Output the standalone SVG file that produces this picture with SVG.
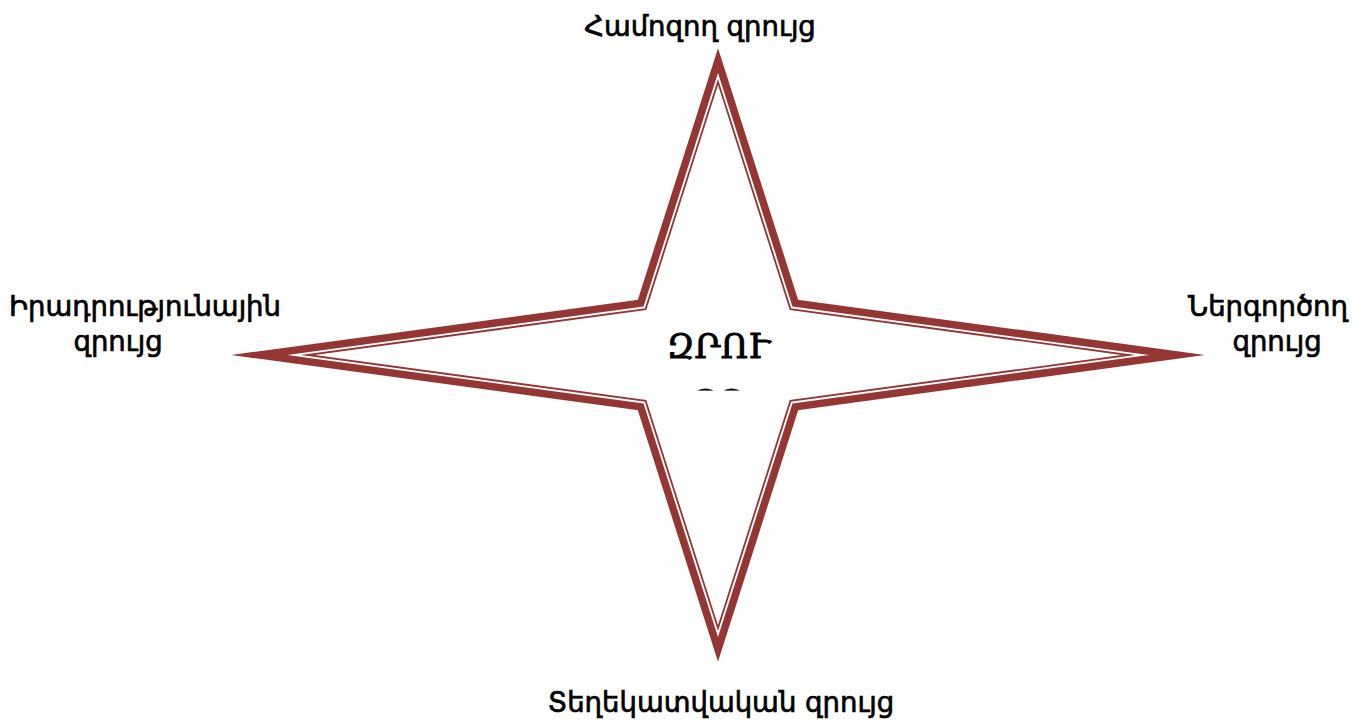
<svg xmlns="http://www.w3.org/2000/svg" width="1371" height="724" viewBox="0 0 1371 724">
  <style>
    .lbl { font-family: "DejaVu Sans", "Noto Sans", sans-serif; font-size: 27.5px; fill: #000; stroke: #000; stroke-width: 0.7; text-anchor: middle; }
    .ctr { font-family: "DejaVu Serif", "Liberation Serif", serif; font-size: 34px; fill: #000; text-anchor: middle; stroke: #000; stroke-width: 0.9; }
    .band { fill: #ffffff; stroke: #943634; stroke-width: 7.5; stroke-linejoin: miter; stroke-miterlimit: 12; }
    .thin { fill: none; stroke: #943634; stroke-width: 1.8; stroke-linejoin: miter; stroke-miterlimit: 12; }
  </style>
  <defs>
    <clipPath id="clip2">
      <rect x="640" y="388" width="160" height="2.6"/>
    </clipPath>
  </defs>
  <rect width="1371" height="724" fill="#ffffff"/>
  <g id="star">
    <polygon class="band" points="718,60.5 795.3,303.2 1177,355 795.3,406.8 718,649.5 640.7,406.8 259,355 640.7,303.2"/>
    <polygon class="thin" points="718,81.9 790.4,309.1 1128.7,355 790.4,400.9 718,628.1 645.6,400.9 307.3,355 645.6,309.1"/>
    <text class="ctr" x="718" y="358">ԶՐՈՒ</text>
    <text class="ctr" x="718" y="414" clip-path="url(#clip2)">ՅՑ</text>
  </g>
  <g id="node-top">
    <text class="lbl" x="700" y="36">Համոզող զրույց</text>
  </g>
  <g id="node-left">
    <text class="lbl" x="145" y="316">Իրադրությունային</text>
    <text class="lbl" x="118" y="351">զրույց</text>
  </g>
  <g id="node-right">
    <text class="lbl" x="1268" y="316">Ներգործող</text>
    <text class="lbl" x="1277" y="351">զրույց</text>
  </g>
  <g id="node-bottom">
    <text class="lbl" x="721" y="712">Տեղեկատվական զրույց</text>
  </g>
  <g id="connectors"></g>
</svg>
